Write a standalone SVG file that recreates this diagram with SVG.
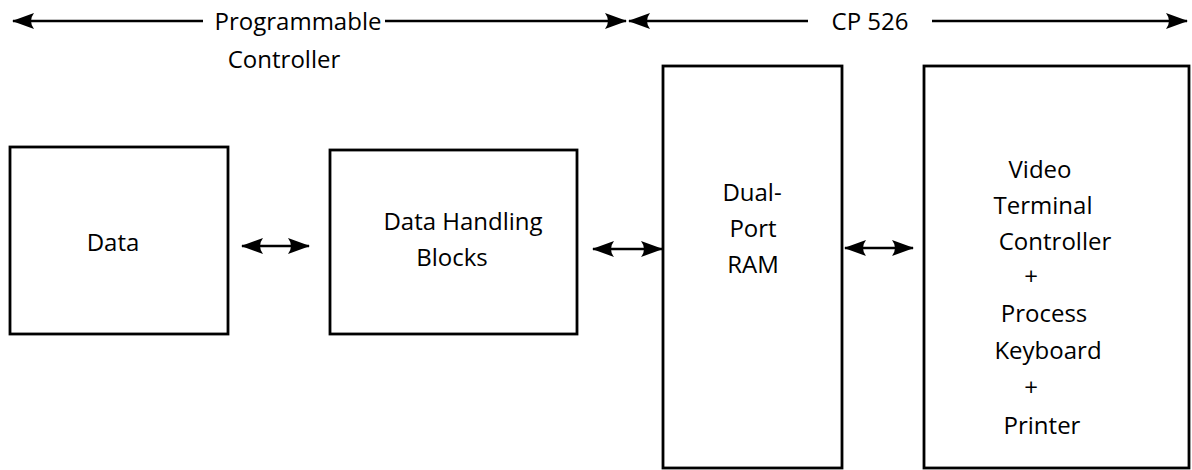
<svg xmlns="http://www.w3.org/2000/svg" width="1192" height="470" viewBox="0 0 1192 470">
<defs>
<marker id="ah" viewBox="0 0 22 16" refX="21" refY="8" markerWidth="22" markerHeight="16" markerUnits="userSpaceOnUse" orient="auto-start-reverse">
<path d="M0,0 L22,8 L0,16 Q6,8 0,0 Z" fill="#000"/>
</marker>
<style>
.box{fill:#fff;stroke:#000;stroke-width:2.8}
.t{font-family:"Open Sans","Liberation Sans",sans-serif;font-size:24px;fill:#000;text-anchor:middle}
.c{stroke:#000;stroke-width:2.6;fill:none}
</style>
</defs>
<rect width="1192" height="470" fill="#fff"/>
<g id="connectors">
<line class="c" x1="13" y1="21" x2="203" y2="21" marker-start="url(#ah)"/>
<line class="c" x1="385" y1="21" x2="626" y2="21" marker-end="url(#ah)"/>
<line class="c" x1="629" y1="21" x2="808" y2="21" marker-start="url(#ah)"/>
<line class="c" x1="932" y1="21" x2="1187" y2="21" marker-end="url(#ah)"/>
<line class="c" x1="242" y1="246" x2="309" y2="246" marker-start="url(#ah)" marker-end="url(#ah)"/>
<line class="c" x1="593" y1="249" x2="662" y2="249" marker-start="url(#ah)" marker-end="url(#ah)"/>
<line class="c" x1="845" y1="248" x2="913" y2="248" marker-start="url(#ah)" marker-end="url(#ah)"/>
</g>
<g id="label-pc">
<text class="t" x="298" y="30">Programmable</text>
<text class="t" x="284" y="68">Controller</text>
</g>
<g id="label-cp">
<text class="t" x="870" y="30">CP 526</text>
</g>
<g id="data">
<rect class="box" x="10" y="147" width="218" height="187"/>
<text class="t" x="113" y="251">Data</text>
</g>
<g id="dhb">
<rect class="box" x="330" y="150" width="247" height="184"/>
<text class="t" x="463" y="230">Data Handling</text>
<text class="t" x="452" y="266">Blocks</text>
</g>
<g id="dpram">
<rect class="box" x="663" y="66" width="179" height="402"/>
<text class="t" x="752" y="201">Dual-</text>
<text class="t" x="753" y="237">Port</text>
<text class="t" x="753" y="273">RAM</text>
</g>
<g id="vtc">
<rect class="box" x="924" y="66" width="265" height="402"/>
<text class="t" x="1040" y="178">Video</text>
<text class="t" x="1043" y="214">Terminal</text>
<text class="t" x="1055" y="250">Controller</text>
<text class="t" x="1031" y="285">+</text>
<text class="t" x="1044" y="322">Process</text>
<text class="t" x="1048" y="359">Keyboard</text>
<text class="t" x="1031" y="396">+</text>
<text class="t" x="1042" y="434">Printer</text>
</g>
</svg>
